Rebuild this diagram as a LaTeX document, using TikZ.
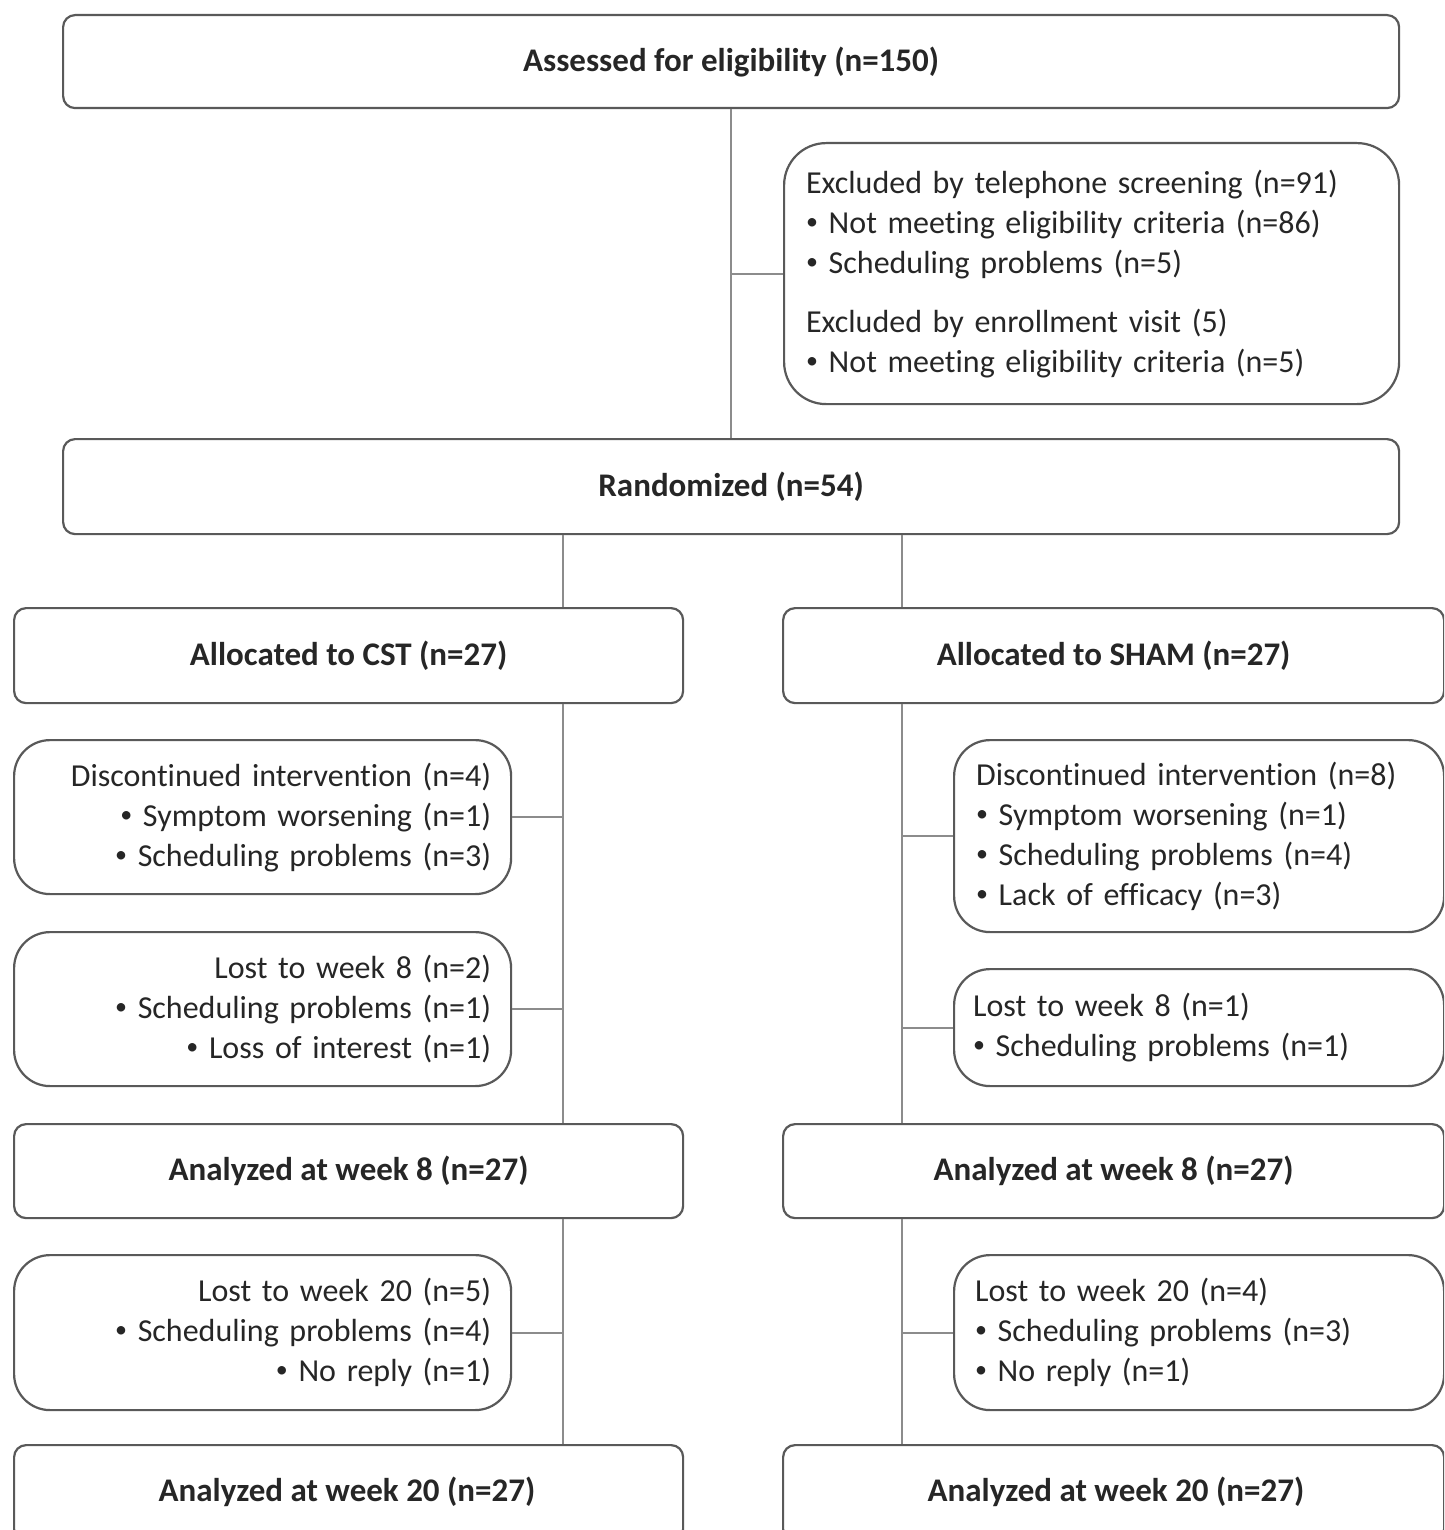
\documentclass[tikz,border=0pt]{standalone}
\usepackage{fontspec}
\setmainfont[Ligatures=NoCommon]{Carlito}
\newcommand{\bul}{\raisebox{0.12em}{\scalebox{0.75}{•}}}
\begin{document}
\begin{tikzpicture}[x=1pt,y=-1pt,
  every node/.style={text=black!85, font=\fontsize{32}{40}\selectfont},
  mainbox/.style={draw=black!65, line width=2.2pt, rounded corners=12pt, anchor=north west, inner sep=0pt, font=\fontsize{33}{40}\selectfont\bfseries, align=center},
  sidebox/.style={draw=black!65, line width=2.2pt, rounded corners=36pt, anchor=north west, inner ysep=0pt},
  boldlabel/.style={font=\fontsize{33}{40}\selectfont\bfseries},
  conn/.style={draw=black!45, line width=2pt}]
\useasboundingbox (0,0) rectangle (1444,1530);
\clip (0,0) rectangle (1444,1530);
\coordinate (lx) at (563,0);
\coordinate (rx) at (902,0);
% top
\node[mainbox, minimum width=1336pt, minimum height=93pt] (top) at (62,14) {Assessed for eligibility (n=150)};
\node[sidebox, minimum width=615pt, minimum height=261pt, text width=571pt, inner xsep=22pt, align=left, rounded corners=42pt] (excl) at (783,142)
 {Excluded by telephone screening (n=91)\\
  \bul{} Not meeting eligibility criteria (n=86)\\
  \bul{} Scheduling problems (n=5)\\[19pt]
  Excluded by enrollment visit (5)\\
  \bul{} Not meeting eligibility criteria (n=5)};
\node[mainbox, minimum width=1336pt, minimum height=95pt] (rand) at (62,438) {Randomized (n=54)};
% allocation
\node[mainbox, minimum width=669pt, minimum height=95pt] (cst) at (13,607) {Allocated to CST (n=27)};
\node[mainbox, minimum width=661pt, minimum height=95pt] (sham) at (782,607) {Allocated to SHAM (n=27)};
% left column
\node[sidebox, minimum width=497pt, minimum height=154pt, text width=457pt, inner xsep=20pt, align=right] (disl) at (13,739)
 {Discontinued intervention (n=4)\\
  \bul{} Symptom worsening (n=1)\\
  \bul{} Scheduling problems (n=3)};
\node[sidebox, minimum width=497pt, minimum height=154pt, text width=457pt, inner xsep=20pt, align=right] (lostl) at (13,931)
 {Lost to week 8 (n=2)\\
  \bul{} Scheduling problems (n=1)\\
  \bul{} Loss of interest (n=1)};
\node[mainbox, minimum width=669pt, minimum height=94pt] (anl8) at (13,1123) {Analyzed at week 8 (n=27)};
\node[sidebox, minimum width=497pt, minimum height=155pt, text width=457pt, inner xsep=20pt, align=right] (lostl20) at (13,1254)
 {Lost to week 20 (n=5)\\
  \bul{} Scheduling problems (n=4)\\
  \bul{} No reply (n=1)};
\node[mainbox, minimum width=669pt, minimum height=96pt] (anl20) at (13,1444) {};
\node[boldlabel] (anl20t) at (347,1492) {Analyzed at week 20 (n=27)};
% right column
\node[sidebox, minimum width=490pt, minimum height=192pt, text width=446pt, inner xsep=22pt, align=left] (disr) at (953,739)
 {Discontinued intervention (n=8)\\
  \bul{} Symptom worsening (n=1)\\
  \bul{} Scheduling problems (n=4)\\
  \bul{} Lack of efficacy (n=3)};
\node[sidebox, minimum width=490pt, minimum height=117pt, text width=452pt, inner xsep=19pt, align=left] (lostr) at (953,968)
 {Lost to week 8 (n=1)\\
  \bul{} Scheduling problems (n=1)};
\node[mainbox, minimum width=661pt, minimum height=94pt] (anr8) at (782,1123) {Analyzed at week 8 (n=27)};
\node[sidebox, minimum width=490pt, minimum height=155pt, text width=448pt, inner xsep=21pt, align=left] (lostr20) at (953,1254)
 {Lost to week 20 (n=4)\\
  \bul{} Scheduling problems (n=3)\\
  \bul{} No reply (n=1)};
\node[mainbox, minimum width=661pt, minimum height=96pt] (anr20) at (782,1444) {};
\node[boldlabel] (anr20t) at (1116,1492) {Analyzed at week 20 (n=27)};
% connectors
\draw[conn] (top.south) -- (rand.north);
\draw[conn] (excl.west) -- (excl.west -| top.south);
\draw[conn] (rand.south -| lx) -- (cst.north -| lx);
\draw[conn] (rand.south -| rx) -- (sham.north -| rx);
\draw[conn] (cst.south -| lx) -- (anl8.north -| lx);
\draw[conn] (anl8.south -| lx) -- (anl20.north -| lx);
\draw[conn] (sham.south -| rx) -- (anr8.north -| rx);
\draw[conn] (anr8.south -| rx) -- (anr20.north -| rx);
\draw[conn] (disl.east) -- (disl.east -| lx);
\draw[conn] (lostl.east) -- (lostl.east -| lx);
\draw[conn] (lostl20.east) -- (lostl20.east -| lx);
\draw[conn] (disr.west) -- (disr.west -| rx);
\draw[conn] (lostr.west) -- (lostr.west -| rx);
\draw[conn] (lostr20.west) -- (lostr20.west -| rx);
\end{tikzpicture}
\end{document}
